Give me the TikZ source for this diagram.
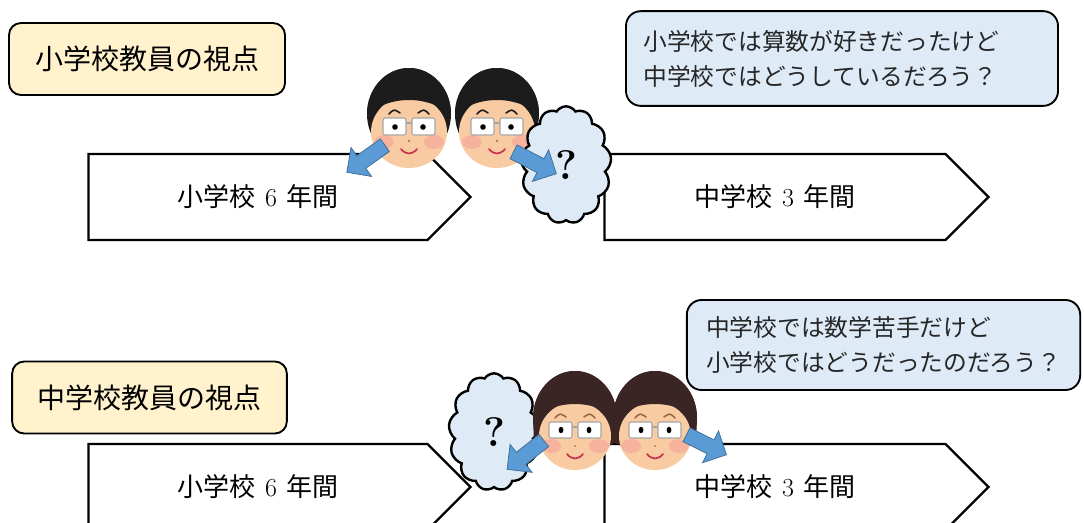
\documentclass[tikz,border=0pt]{standalone}
\usepackage{fontspec}
\newfontfamily\jp{Noto Sans CJK JP}
\usetikzlibrary{shapes.symbols,shapes.arrows}

\definecolor{notebg}{HTML}{FFF2CC}
\definecolor{talkbg}{HTML}{DEEBF7}
\definecolor{arrowblue}{HTML}{5B9BD5}
\definecolor{arrowline}{HTML}{41719C}
\definecolor{skin}{HTML}{F9CBA2}
\definecolor{blush}{HTML}{F49E9A}
\definecolor{boyhair}{HTML}{1C1C1C}
\definecolor{girlhair}{HTML}{3A2424}
\definecolor{browcol}{HTML}{9A6A3C}
\definecolor{lipred}{HTML}{C8344E}

\begin{document}
\begin{tikzpicture}[x=0.75pt,y=-0.75pt,every node/.style={inner sep=0pt},
  viewpoint/.style={draw,line width=1.4pt,rounded corners=9pt,fill=notebg,minimum height=54pt,font=\jp\fontsize{21}{21}\selectfont},
  talk/.style={draw,line width=1.4pt,rounded corners=11pt,fill=talkbg,align=left,text=black!85,font=\jp\fontsize{17.8}{26.3}\selectfont},
  period/.style={signal,signal to=east,signal pointer angle=90,draw,line width=1.7pt,fill=white,minimum height=64.5pt,font=\fontsize{19.5}{19.5}\selectfont},
  doubt/.style={cloud,cloud puffs=13,cloud puff arc=115,cloud ignores aspect,draw,line width=1.8pt,fill=talkbg,minimum width=68pt,minimum height=88pt,font=\fontsize{31}{31}\selectfont\bfseries},
  look/.style={single arrow,single arrow head extend=7.5pt,inner xsep=0pt,inner ysep=5.5pt,draw=arrowline,line width=0.6pt,fill=arrowblue},
  boy/.pic={
    \fill[boyhair] (0,-4) ellipse [x radius=42,y radius=46];
    \fill[skin] (0,14) ellipse [x radius=38,y radius=36];
    \begin{scope}
      \clip (0,-4) ellipse [x radius=42,y radius=46];
      \fill[boyhair] (-44,0) .. controls (-24,-24) and (24,-24) .. (44,0) -- (44,-52) -- (-44,-52) -- cycle;
    \end{scope}
    \fill[blush,opacity=.55] (-25,24) ellipse [x radius=10,y radius=7] (25,24) ellipse [x radius=10,y radius=7];
    \draw[boyhair,line width=1.2pt,line cap=round] (-20,-4) .. controls (-15,-9) .. (-9,-5) (9,-5) .. controls (15,-9) .. (20,-4);
    \draw[gray!70,fill=white,line width=0.8pt,rounded corners=1.5pt] (-26,0) rectangle (-3,17) (3,0) rectangle (26,17);
    \draw[gray!70,line width=0.8pt] (-3,5) -- (3,5);
    \fill (-14,9) circle [radius=2.8] (14,9) circle [radius=2.8];
    \fill[browcol] (0,23) circle [radius=1.2];
    \draw[lipred,line width=1.3pt,line cap=round] (-8,31) .. controls (-3,37) and (3,37) .. (8,31);
  },
  girl/.pic={
    \fill[girlhair] (0,-2) ellipse [x radius=42,y radius=47];
    \fill[girlhair] (-42,-2) -- (-41,22) -- (-30,28) -- (30,28) -- (41,22) -- (42,-2) -- cycle;
    \fill[skin] (0,16) ellipse [x radius=36,y radius=34];
    \begin{scope}
      \clip (0,-2) ellipse [x radius=42,y radius=47];
      \fill[girlhair] (-44,2) .. controls (-24,-22) and (24,-22) .. (44,2) -- (44,-52) -- (-44,-52) -- cycle;
    \end{scope}
    \fill[blush,opacity=.55] (-24,26) ellipse [x radius=10,y radius=7] (24,26) ellipse [x radius=10,y radius=7];
    \draw[browcol,line width=1.2pt,line cap=round] (-20,-2) .. controls (-15,-7) .. (-9,-3) (9,-3) .. controls (15,-7) .. (20,-2);
    \draw[gray!70,fill=white,line width=0.8pt,rounded corners=1.5pt] (-26,2) rectangle (-3,18) (3,2) rectangle (26,18);
    \draw[gray!70,line width=0.8pt] (-3,7) -- (3,7);
    \fill (-14,10) ellipse [x radius=2.4,y radius=3.2] (14,10) ellipse [x radius=2.4,y radius=3.2];
    \fill[lipred!70] (0,26) circle [radius=1.2];
    \draw[lipred,line width=1.3pt,line cap=round] (-8,34) .. controls (-3,40) and (3,40) .. (8,34);
  }]
  \clip (0,0) rectangle (1084,522);

  \node[viewpoint,minimum width=207pt] (elem) at (147,59) {小学校教員の視点};
  \node[viewpoint,minimum width=206pt] (junior) at (149.5,397.5) {中学校教員の視点};

  \node[talk,minimum width=324pt,minimum height=71pt,text width=298pt] (bub1) at (842,58.5) {小学校では算数が好きだったけど\\中学校ではどうしているだろう？};
  \node[talk,minimum width=295pt,minimum height=67.5pt,text width=266pt] (bub2) at (883.5,345) {中学校では数学苦手だけど\\小学校ではどうだったのだろう？};

  \node[period,minimum width=286.5pt] (sho1) at (258,197) {{\jp 小学校}\hspace{7pt}6\hspace{7pt}{\jp 年間}};
  \node[period,minimum width=288pt] (chu1) at (775,197) {{\jp 中学校}\hspace{7pt}3\hspace{7pt}{\jp 年間}};
  \node[period,minimum width=286.5pt] (sho2) at (258,487) {{\jp 小学校}\hspace{7pt}6\hspace{7pt}{\jp 年間}};
  \node[period,minimum width=288pt] (chu2) at (775,487) {{\jp 中学校}\hspace{7pt}3\hspace{7pt}{\jp 年間}};

  \node[doubt] (q2) at (494,432) {?};
  \pic (boyA) at (409,118) {boy};
  \pic (boyB) at (497,118) {boy};
  \node[doubt] (q1) at (566,165) {?};
  \pic (girlA) at (575,420) {girl};
  \pic (girlB) at (655,420) {girl};

  \node[look,minimum height=35pt,rotate=215.4] (ar1) at (369,156.5) {};
  \node[look,minimum height=36pt,rotate=-27.1] (ar2) at (531.5,161) {};
  \node[look,minimum height=35pt,rotate=218.1] (ar3) at (528.5,452.5) {};
  \node[look,minimum height=33.5pt,rotate=-26.6] (ar4) at (703,443) {};
\end{tikzpicture}
\end{document}
